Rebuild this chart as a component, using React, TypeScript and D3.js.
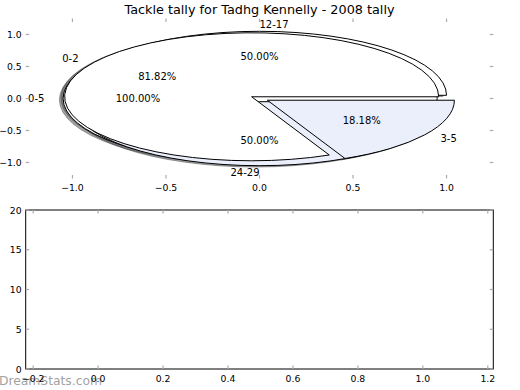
import React from 'react'
import * as d3 from 'd3'

const chartTitle = 'Tackle tally for Tadhg Kennelly - 2008 tally'
const watermark = 'DreamStats.com'

// three pies are drawn into the same axes, in this order
const ageGroupsC = ['0-5']
const tallyC = [1]
const ageGroupsA = ['12-17', '24-29']
const tallyA = [1, 1]
const ageGroupsB = ['0-2', '3-5']
const tallyB = [9, 2]

const sliceColors = ['#ffffff', '#eaeffb']
const explode = 0.05
const shadowShift = -0.02

const pieTicks = [-1, -0.5, 0, 0.5, 1]
const lowerXTicks = [-0.2, 0, 0.2, 0.4, 0.6, 0.8, 1.0, 1.2]
const lowerYTicks = [0, 5, 10, 15, 20]

const W = 520
const H = 390
const left = 25.7
const right = 493.3
const top1 = 18.5
const bottom1 = 178.5
const top2 = 210
const bottom2 = 369
const font = 'DejaVu Sans, sans-serif'
const tickColor = '#aaa'
const tickLen = 3.5

const x1 = d3.scaleLinear().domain([-1.25, 1.25]).range([left, right])
const y1 = d3.scaleLinear().domain([-1.25, 1.25]).range([bottom1, top1])
const x2 = d3.scaleLinear().domain([-0.223, 1.217]).range([left, right])
const y2 = d3.scaleLinear().domain([0, 20]).range([bottom2, top2])

const sx = x1(1) - x1(0)
const sy = y1(0) - y1(1)

// matplotlib starts at 3 o'clock and goes counterclockwise
const pieLayout = d3.pie<number>().sort(null).startAngle(Math.PI / 2).endAngle(Math.PI / 2 - 2 * Math.PI)
const arcShape = d3.arc<d3.PieArcDatum<number>>().innerRadius(0).outerRadius(1)
const pct = d3.format('.2f')
const fmt1 = d3.format('.1f')

function buildPie(labels: string[], values: number[]) {
  const total = d3.sum(values)
  return pieLayout(values).map((d, i) => {
    const am = (d.startAngle + d.endAngle) / 2
    const ux = Math.sin(am)
    const uy = Math.cos(am)
    const cx = explode * ux
    const cy = explode * uy
    return {
      d,
      label: labels[i],
      color: sliceColors[i % sliceColors.length],
      cx, cy,
      lx: cx + 1.1 * ux,
      ly: cy + 1.1 * uy,
      px: cx + 0.6 * ux,
      py: cy + 0.6 * uy,
      text: pct((100 * d.value) / total) + '%',
    }
  })
}

const wedges = [
  ...buildPie(ageGroupsC, tallyC),
  ...buildPie(ageGroupsA, tallyA),
  ...buildPie(ageGroupsB, tallyB),
]

function shadowColor(c: string) {
  const rgb = d3.rgb(c)
  return `rgba(${Math.round(rgb.r * 0.3)},${Math.round(rgb.g * 0.3)},${Math.round(rgb.b * 0.3)},0.5)`
}

export default function App() {
  return (
    <div style={{ position: 'absolute', left: 0, top: 0 }}>
      <svg width={W} height={H} style={{ display: 'block', background: '#fff' }} fontFamily={font}>
        <text x={(left + right) / 2} y={14} textAnchor="middle" fontSize={12.8}>{chartTitle}</text>

        {/* shadows sit under every wedge */}
        {wedges.map((w, i) => (
          <path key={'s' + i} d={arcShape(w.d) || ''}
            transform={`translate(${x1(w.cx + shadowShift)},${y1(w.cy + shadowShift)}) scale(${sx},${sy})`}
            fill={shadowColor(w.color)} stroke={shadowColor(w.color)} strokeWidth={1}
            vectorEffect="non-scaling-stroke" />
        ))}
        {wedges.map((w, i) => (
          <path key={'w' + i} d={arcShape(w.d) || ''}
            transform={`translate(${x1(w.cx)},${y1(w.cy)}) scale(${sx},${sy})`}
            fill={w.color} stroke="#000" strokeWidth={1}
            vectorEffect="non-scaling-stroke" />
        ))}
        {wedges.map((w, i) => (
          <g key={'t' + i} fontSize={10}>
            <text x={x1(w.lx)} y={y1(w.ly)} dominantBaseline="central"
              textAnchor={w.lx >= 0 ? 'start' : 'end'}>{w.label}</text>
            <text x={x1(w.px)} y={y1(w.py)} dominantBaseline="central" textAnchor="middle">{w.text}</text>
          </g>
        ))}

        {/* pie axes: no frame, ticks only */}
        <g stroke={tickColor} strokeWidth={1.2}>
          {pieTicks.map(t => (
            <g key={'px' + t}>
              <line x1={x1(t)} x2={x1(t)} y1={top1} y2={top1 + tickLen} />
              <line x1={x1(t)} x2={x1(t)} y1={bottom1} y2={bottom1 - tickLen} />
              <line x1={left} x2={left + tickLen} y1={y1(t)} y2={y1(t)} />
              <line x1={right} x2={right - tickLen} y1={y1(t)} y2={y1(t)} />
            </g>
          ))}
        </g>
        <g fontSize={9.3}>
          {pieTicks.map(t => (
            <g key={'pl' + t}>
              <text x={x1(t)} y={bottom1 + 9} textAnchor="middle" dominantBaseline="central">{fmt1(t)}</text>
              <text x={left - 4} y={y1(t)} textAnchor="end" dominantBaseline="central">{fmt1(t)}</text>
            </g>
          ))}
        </g>

        {/* empty lower axes */}
        <rect x={left} y={top2} width={right - left} height={bottom2 - top2} fill="none" stroke="#000" strokeWidth={1} />
        <g stroke={tickColor} strokeWidth={1.2}>
          {lowerXTicks.map(t => (
            <g key={'lx' + t}>
              <line x1={x2(t)} x2={x2(t)} y1={top2} y2={top2 + tickLen} />
              <line x1={x2(t)} x2={x2(t)} y1={bottom2} y2={bottom2 - tickLen} />
            </g>
          ))}
          {lowerYTicks.map(t => (
            <g key={'ly' + t}>
              <line x1={left} x2={left + tickLen} y1={y2(t)} y2={y2(t)} />
              <line x1={right} x2={right - tickLen} y1={y2(t)} y2={y2(t)} />
            </g>
          ))}
        </g>
        <text x={-1} y={385} fontSize={12.3} fill="#888" fillOpacity={0.8}>{watermark}</text>
        <g fontSize={9.3}>
          {lowerXTicks.map(t => (
            <text key={'lxl' + t} x={x2(t)} y={bottom2 + 9} textAnchor="middle" dominantBaseline="central">{fmt1(t)}</text>
          ))}
          {lowerYTicks.map(t => (
            <text key={'lyl' + t} x={left - 4} y={y2(t)} textAnchor="end" dominantBaseline="central">{t}</text>
          ))}
        </g>
      </svg>
    </div>
  )
}
